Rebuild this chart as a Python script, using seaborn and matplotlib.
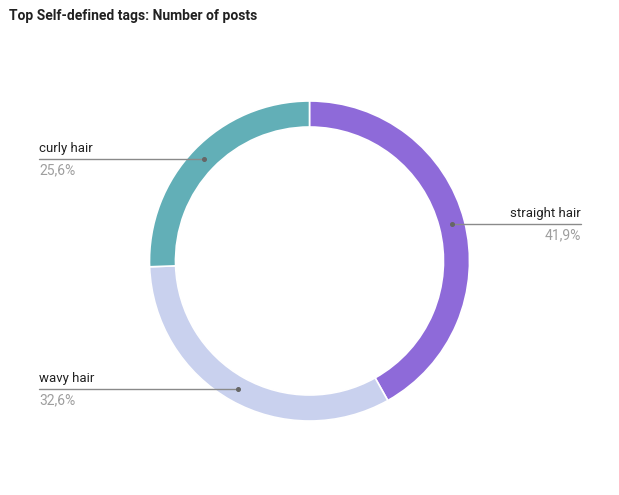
import numpy as np
import seaborn as sns
import matplotlib.pyplot as plt

tags = ["straight hair", "wavy hair", "curly hair"]
shares = [41.9, 32.6, 25.6]
share_labels = ["41,9%", "32,6%", "25,6%"]
colors = ["#8E6AD9", "#C9D1EE", "#62AFB7"]

sns.set_theme(style="white")
plt.rcParams["font.family"] = ["Roboto", "DejaVu Sans"]

W, H = 619, 495
fig = plt.figure(figsize=(W / 100, H / 100), dpi=100)
ax = fig.add_axes([0, 0, 1, 1])

cx, cy, r_out, ring = 309.5, H - 261, 160, 26
wedges, _ = ax.pie(shares, colors=colors, startangle=90, counterclock=False,
                   center=(cx, cy), radius=r_out,
                   wedgeprops=dict(width=ring, edgecolor="white", linewidth=1.2))
ax.set_xlim(0, W)
ax.set_ylim(0, H)
ax.set_aspect("equal")
ax.axis("off")

r_mid = r_out - ring / 2
for w, tag, pct in zip(wedges, tags, share_labels):
    ang = np.deg2rad((w.theta1 + w.theta2) / 2)
    px, py = cx + r_mid * np.cos(ang), cy + r_mid * np.sin(ang)
    if px > cx:
        x_end, ha = 581, "right"
    else:
        x_end, ha = 39, "left"
    ax.plot([px, x_end], [py, py], color="#8a8a8a", lw=1)
    ax.plot(px, py, "o", color="#666666", ms=2.6)
    ax.text(x_end, py + 4, tag, ha=ha, va="bottom", fontsize=9.5, color="#222222")
    ax.text(x_end, py - 4, pct, ha=ha, va="top", fontsize=10, color="#9E9E9E")

fig.text(9 / W, 1 - 16 / H, "Top Self-defined tags: Number of posts", ha="left", va="center",
         fontsize=10, fontweight="bold", color="#212121")

fig.savefig("out.png", dpi=100)
